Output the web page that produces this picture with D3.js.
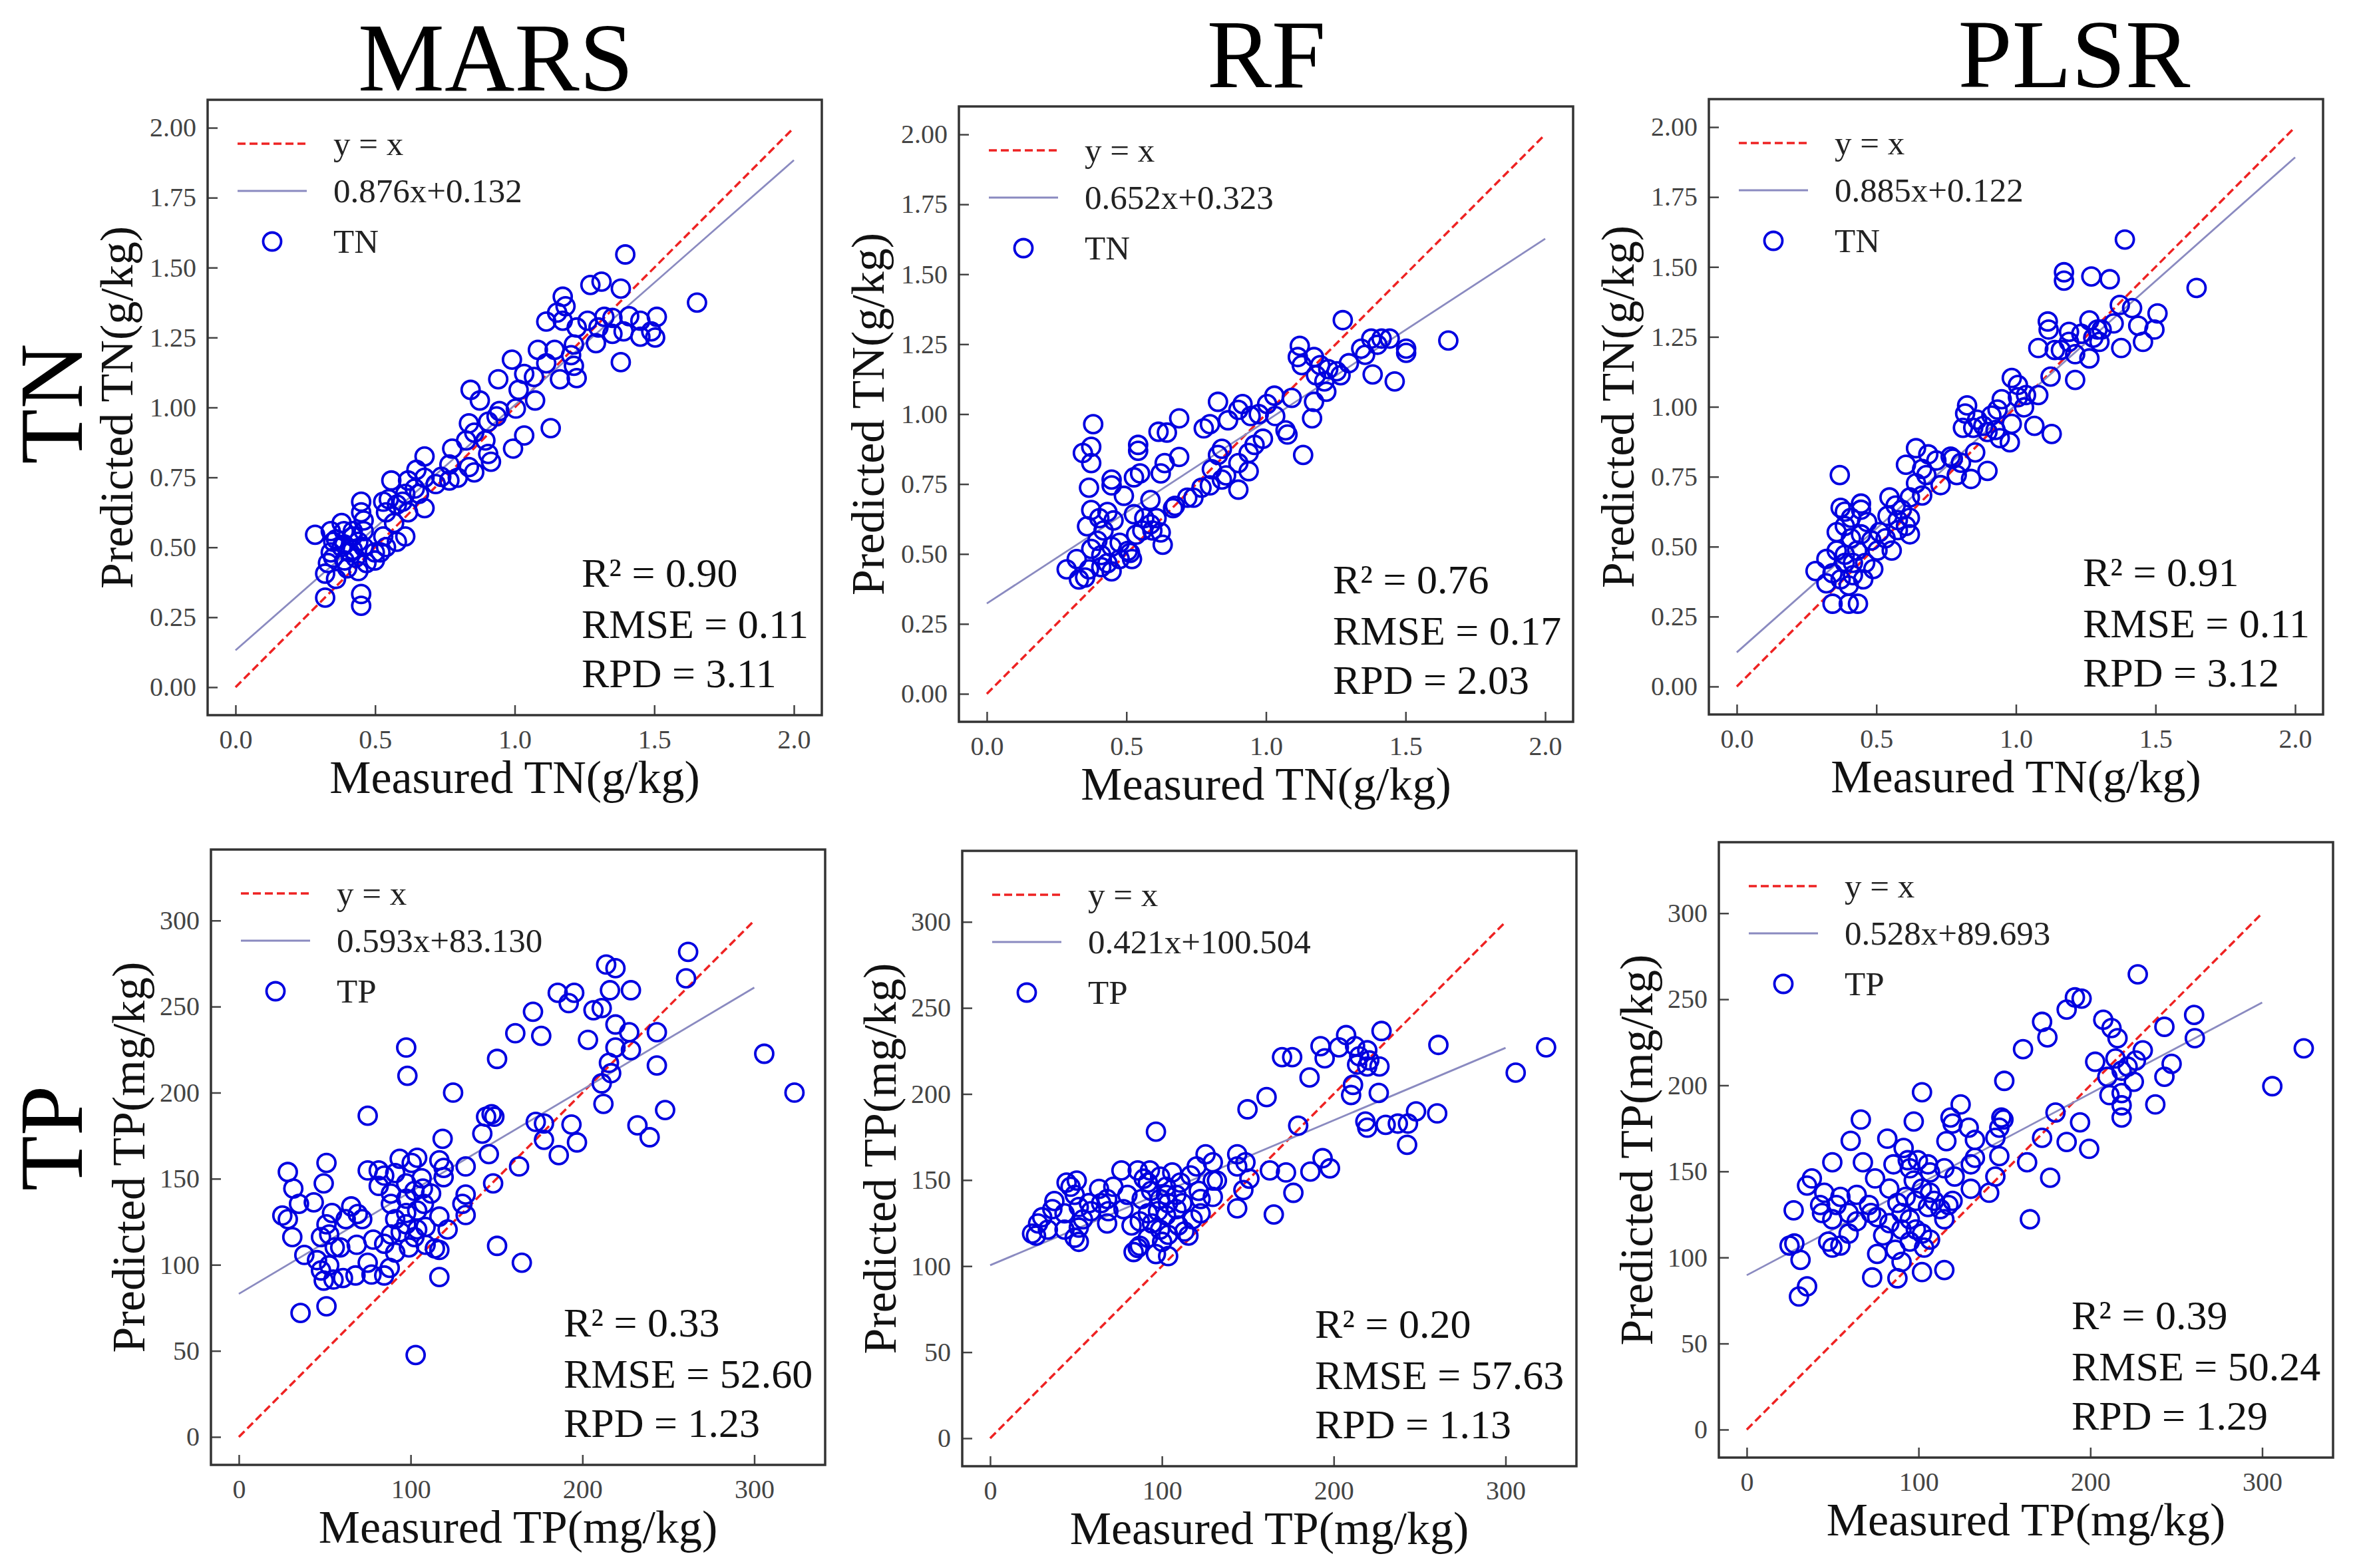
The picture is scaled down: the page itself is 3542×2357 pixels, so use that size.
<!DOCTYPE html>
<html>
<head>
<meta charset="utf-8">
<script src="https://cdn.jsdelivr.net/npm/d3@7/dist/d3.min.js"></script>
<style>
  html, body { margin: 0; padding: 0; background: #fff; }
  svg { display: block; }
</style>
</head>
<body>
<svg id="chart" width="3542" height="2357"></svg>
<script>
// ---------------- DATA ----------------
const models = ["MARS", "RF", "PLSR"];
const properties = ["TN", "TP"];

const tnTicksY = [0, 0.25, 0.5, 0.75, 1.0, 1.25, 1.5, 1.75, 2.0];
const tnTicksX = [0, 0.5, 1.0, 1.5, 2.0];
const tpTicksY = [0, 50, 100, 150, 200, 250, 300];
const tpTicksX = [0, 100, 200, 300];

const fitSlopes = { MARS_TN: 0.876, RF_TN: 0.652, PLSR_TN: 0.885, MARS_TP: 0.593, RF_TP: 0.421, PLSR_TP: 0.528 };
const fitIntercepts = { MARS_TN: 0.132, RF_TN: 0.323, PLSR_TN: 0.122, MARS_TP: 83.130, RF_TP: 100.504, PLSR_TP: 89.693 };
const fitLabels = { MARS_TN: "0.876x+0.132", RF_TN: "0.652x+0.323", PLSR_TN: "0.885x+0.122",
                    MARS_TP: "0.593x+83.130", RF_TP: "0.421x+100.504", PLSR_TP: "0.528x+89.693" };
const r2Values = { MARS_TN: "0.90", RF_TN: "0.76", PLSR_TN: "0.91", MARS_TP: "0.33", RF_TP: "0.20", PLSR_TP: "0.39" };
const rmseValues = { MARS_TN: "0.11", RF_TN: "0.17", PLSR_TN: "0.11", MARS_TP: "52.60", RF_TP: "57.63", PLSR_TP: "50.24" };
const rpdValues = { MARS_TN: "3.11", RF_TN: "2.03", PLSR_TN: "3.12", MARS_TP: "1.23", RF_TP: "1.13", PLSR_TP: "1.29" };

// measured, predicted
const marsTN = [
[1.396,1.547],[1.653,1.375],[1.380,1.425],[1.271,1.438],[1.311,1.45],[1.172,1.396],[1.182,1.362],[1.113,1.307],
[1.172,1.31],[1.261,1.31],[1.321,1.324],[1.35,1.32],[1.41,1.326],[1.45,1.31],[1.509,1.324],[1.45,1.253],
[1.503,1.25],[1.35,1.263],[1.291,1.23],[1.30,1.286],[1.38,1.162],[1.212,1.225],[1.202,1.187],[1.212,1.149],
[1.222,1.105],[1.162,1.101],[1.113,1.158],[1.083,1.206],[1.143,1.206],[1.069,1.109],[0.99,1.171],[1.034,1.12],
[1.014,1.063],[1.073,1.025],[1.004,0.996],[1.129,0.926],[1.034,0.90],[0.994,0.853],[0.941,1.101],[0.842,1.063],
[0.875,1.025],[0.945,0.987],[0.905,0.949],[0.935,0.968],[0.836,0.943],[0.826,0.882],[0.855,0.91],[0.895,0.882],
[0.905,0.834],[0.915,0.806],[0.855,0.768],[0.836,0.787],[0.776,0.853],[0.766,0.796],[0.766,0.739],[0.796,0.749],
[0.737,0.752],[0.677,0.825],[0.677,0.749],[0.648,0.777],[0.618,0.739],[0.642,0.710],[0.677,0.64],[0.618,0.625],
[0.598,0.663],[0.558,0.739],[0.549,0.672],[0.529,0.663],[0.539,0.625],[0.568,0.587],[0.608,0.539],[0.578,0.52],
[0.539,0.501],[0.519,0.482],[0.499,0.453],[0.529,0.539],[0.459,0.558],[0.45,0.663],[0.45,0.625],[0.459,0.596],
[0.42,0.558],[0.38,0.587],[0.341,0.558],[0.285,0.545],[0.35,0.52],[0.38,0.501],[0.41,0.482],[0.44,0.52],
[0.459,0.501],[0.43,0.463],[0.39,0.453],[0.35,0.463],[0.331,0.444],[0.321,0.406],[0.36,0.387],[0.40,0.425],
[0.44,0.415],[0.321,0.32],[0.45,0.333],[0.45,0.291],[0.42,0.539],[0.388,0.558],[0.36,0.529],[0.469,0.444],
[0.499,0.482],[0.39,0.51],[0.42,0.491],[0.341,0.482],[0.657,0.691],[0.717,0.726],[0.608,0.691],[0.578,0.653],
[1.152,1.339],[1.222,1.286],[1.39,1.272],[1.489,1.272]
];

const rfTN = [
[1.275,1.336],[1.653,1.263],[1.121,1.244],[1.172,1.204],[1.114,1.204],[1.128,1.175],[1.194,1.175],[1.179,1.139],
[1.209,1.117],[1.216,1.08],[1.253,1.153],[1.297,1.182],[1.341,1.234],[1.377,1.27],[1.414,1.27],[1.443,1.27],
[1.399,1.248],[1.355,1.212],[1.502,1.234],[1.502,1.219],[1.382,1.142],[1.461,1.117],[1.172,1.044],[1.165,0.985],
[1.133,0.854],[1.092,1.058],[1.03,1.066],[1.004,1.036],[0.974,1.0],[0.945,0.993],[0.916,1.036],[0.901,1.015],
[0.864,0.978],[0.828,1.044],[0.777,0.949],[0.799,0.964],[1.033,0.993],[1.07,0.942],[1.077,0.927],[0.989,0.912],
[0.959,0.89],[0.938,0.861],[0.938,0.796],[0.901,0.73],[0.901,0.825],[0.857,0.781],[0.842,0.876],[0.828,0.854],
[0.806,0.803],[0.842,0.766],[0.799,0.745],[0.769,0.737],[0.74,0.701],[0.689,0.847],[0.689,0.985],[0.645,0.934],
[0.615,0.937],[0.637,0.825],[0.623,0.788],[0.549,0.788],[0.542,0.89],[0.542,0.869],[0.527,0.774],[0.586,0.693],
[0.674,0.672],[0.381,0.964],[0.344,0.861],[0.374,0.883],[0.374,0.825],[0.366,0.737],[0.447,0.766],[0.447,0.745],
[0.491,0.708],[0.374,0.657],[0.359,0.599],[0.403,0.628],[0.432,0.65],[0.454,0.62],[0.418,0.584],[0.396,0.547],
[0.374,0.518],[0.41,0.496],[0.447,0.526],[0.476,0.54],[0.505,0.511],[0.52,0.482],[0.527,0.642],[0.564,0.628],
[0.586,0.606],[0.608,0.628],[0.623,0.577],[0.63,0.533],[0.557,0.584],[0.535,0.569],[0.593,0.584],[0.447,0.438],
[0.432,0.467],[0.41,0.453],[0.366,0.445],[0.322,0.482],[0.286,0.445],[0.33,0.409],[0.352,0.416],[0.476,0.482],
[0.513,0.504],[0.667,0.664],[0.718,0.701],[1.223,1.161],[1.267,1.139]
];

const plsrTN = [
[1.39,1.598],[1.647,1.425],[1.172,1.481],[1.172,1.451],[1.27,1.466],[1.336,1.456],[1.372,1.364],[1.416,1.353],
[1.507,1.334],[1.496,1.276],[1.438,1.29],[1.455,1.232],[1.377,1.21],[1.35,1.298],[1.307,1.276],[1.263,1.309],
[1.234,1.261],[1.19,1.268],[1.19,1.232],[1.161,1.203],[1.212,1.188],[1.299,1.232],[1.263,1.173],[1.212,1.096],
[1.114,1.305],[1.117,1.276],[1.08,1.21],[1.139,1.203],[1.124,1.108],[1.08,1.042],[1.036,1.042],[0.985,1.103],
[1.007,1.078],[1.029,0.998],[1.066,0.932],[1.128,0.903],[0.985,0.939],[0.978,0.873],[0.949,1.027],[0.934,0.99],
[0.912,0.969],[0.898,0.91],[0.927,0.917],[0.942,0.888],[0.883,0.932],[0.861,0.954],[0.825,1.005],[0.818,0.976],
[0.81,0.925],[0.847,0.925],[0.854,0.837],[0.839,0.742],[0.803,0.8],[0.774,0.815],[0.788,0.756],[0.898,0.771],
[0.73,0.72],[0.686,0.83],[0.642,0.852],[0.606,0.793],[0.664,0.778],[0.679,0.756],[0.642,0.727],[0.664,0.683],
[0.62,0.676],[0.591,0.632],[0.547,0.676],[0.569,0.647],[0.54,0.61],[0.577,0.595],[0.62,0.603],[0.606,0.574],
[0.62,0.544],[0.577,0.559],[0.511,0.552],[0.533,0.53],[0.555,0.486],[0.504,0.486],[0.369,0.756],[0.372,0.639],
[0.387,0.625],[0.445,0.654],[0.445,0.632],[0.409,0.603],[0.358,0.552],[0.387,0.574],[0.409,0.53],[0.445,0.544],
[0.467,0.588],[0.482,0.522],[0.431,0.486],[0.387,0.471],[0.358,0.486],[0.321,0.456],[0.282,0.413],[0.343,0.405],
[0.321,0.369],[0.372,0.383],[0.416,0.398],[0.453,0.383],[0.489,0.42],[0.416,0.442],[0.46,0.442],[0.401,0.361],
[0.343,0.296],[0.401,0.296],[0.434,0.296],[0.387,0.442],[0.766,0.822],[0.715,0.808],[1.292,1.276],[1.277,1.247],
[1.007,1.034]
];

const marsTP = [
[261.5,281.8],[260.3,266.4],[213.8,274.4],[219.2,272.3],[185.6,258],[195.2,258],[192,252],[228.2,259.5],
[216,259.5],[206.4,247.9],[211.2,249.1],[171.2,247],[160.9,234.5],[176,233],[203.2,230.7],[219.2,239.6],
[227.2,235.1],[243.3,235.1],[243.3,215.8],[228.2,224.7],[219.2,226.2],[215.4,217.3],[216.7,211.3],[211.2,205.4],
[212.2,193.5],[248.1,189.9],[232,181],[239.1,174.1],[193.6,181.5],[196.8,171.1],[177.6,182.1],[177.6,172.6],
[172.8,183],[186.2,163.7],[150.3,219.6],[97.4,226.2],[98.1,209.8],[124.7,200],[75,186.6],[147.1,187.5],
[148.7,186],[143.9,186],[141.7,176.2],[118.6,173.2],[145.5,164.3],[132,157.1],[163.1,157.1],[148,147.3],
[132,140.8],[132,128.9],[130.1,135.4],[150.3,111],[164.7,101.2],[102.9,47.6],[51,75.9],[35.9,72],
[51,159.2],[49.4,147.3],[28.5,153.9],[31.7,144.3],[35,135.4],[43.6,136.3],[25.3,128.6],[28.5,126.5],
[31.1,116.1],[38.1,105.7],[45.5,102.7],[47.8,96.7],[49.4,90.8],[55.1,91.4],[52.6,99.7],[51,123.5],
[52.6,117.6],[55.8,110.1],[54.2,130.1],[62.2,126.5],[65.4,133.9],[69.2,129.5],[71.8,126.5],[68.6,111.6],
[67.9,93.8],[75,101.2],[77.2,94.3],[87.8,98.2],[84.6,112.2],[88.5,117.6],[94.2,119],[91,126.5],
[97.4,130.1],[103.8,131.5],[107.7,135.4],[97.4,138.4],[88.5,135.4],[81.4,145.8],[81.4,154.8],[75,154.8],
[84.6,151.8],[91,153.3],[93.6,161.6],[103.8,162.2],[100.6,159.2],[106.4,150.3],[97.4,147.3],[107.1,144.3],
[102.2,142.9],[111.9,141.4],[116.7,160.7],[119.2,156.3],[119.2,150.9],[116.7,128],[108.7,122],[103.8,120.5],
[102.2,116.1],[108.7,111.6],[114.1,109.5],[116.7,108.6],[116.7,92.9],[99,110.1],[121.5,120.5],[84.6,93.8],
[60.6,92.3],[59,110.1],[47.8,116.1],[88.5,141.4],[97.4,123.5],[91,107.1],[78.2,114.6],[305.8,222.6],
[323.4,200]
];

const rfTP = [
[323.6,227.1],[305.9,212.4],[260.9,228.5],[260.2,188.7],[227.8,236.6],[207.2,234.2],[203,227.1],[212.4,227.8],
[214.8,221.9],[219.5,225.4],[220.7,219.5],[213.6,217.1],[226.6,216],[219.5,216],[192.3,227.8],[194.7,220.7],
[169.9,221.4],[175.8,221.4],[185.9,209.6],[211.2,205.3],[210.1,199.4],[226.2,200.6],[160.9,198.2],[149.8,191.1],
[218.4,184],[219.5,180.4],[230.2,182.1],[237.3,182.8],[243.2,182.8],[247.9,189.9],[242.7,170.5],[179.3,181.6],
[96.5,178.1],[125.4,165],[129.6,160.3],[143.8,157.9],[148.6,160.3],[162.8,155.6],[172.2,154.4],[186.4,154.9],
[193.5,162.7],[197.8,156.8],[176.5,142.6],[165.1,130],[143.8,133.6],[150.9,150.8],[147.4,144.2],[132,149.7],
[129.6,140.2],[122.5,130.7],[121.4,143.7],[116.6,152.7],[120.2,157.9],[110.7,148.5],[106,154.4],[102.4,146.1],
[98.9,152],[93,155.6],[89.4,150.8],[93.7,143.7],[88.2,139],[98.9,139],[103.6,136.6],[108.4,133.1],
[102.4,129.5],[97.7,131.9],[91.8,130.7],[87.1,126],[94.2,124.8],[98.9,121.2],[103.6,118.2],[109.5,123.6],
[115.4,117.7],[117.8,127.2],[91.8,116.5],[87.1,111.8],[85.9,110.6],[96.5,107],[103.6,105.8],[100.1,114.1],
[82.3,123.6],[77.6,133.1],[79.9,141.4],[76.4,155.6],[71.7,146.1],[68.1,139],[63.4,144.9],[68.8,131.9],
[68.1,124.8],[64.6,136.6],[57.5,136.6],[50.4,149.7],[46.8,146.1],[44.5,148.5],[49.2,141.4],[51.6,134.3],
[43.3,130.7],[37.4,137.8],[36.2,133.1],[30.3,128.4],[27.9,124.8],[24.4,118.9],[26.7,117.7],[33.6,121.2],
[43.3,121.2],[51.6,122.4],[49.2,116.5],[51.6,114.1],[54,127.2],[58.7,131.9],[83.5,108.2],[113.1,120.1],
[122.5,139],[108.4,141.4],[102.4,141.4],[85.9,155.6],[91.8,148.5],[111.9,136.6],[129.6,149.7],[143.8,165]
];

const plsrTP = [
[227.6,264.5],[324.2,221.5],[305.9,199.5],[260.4,240.9],[260.8,227.4],[243.1,234],[247.3,212.5],[243.1,205],
[237.8,188.9],[230.5,220.3],[226.5,214.4],[225.3,202.1],[221.7,210.9],[218.2,208.5],[215.8,227.4],[212.3,233.3],
[207.5,238.1],[202.8,213.7],[209.9,205],[211.1,194.3],[218.2,195.5],[218.2,188.4],[218.2,181.3],[214.6,215.6],
[186.2,244],[191,251.1],[194.9,250.4],[171.9,236.9],[175,227.9],[160.8,221],[149.9,202.6],[179.7,184.2],
[194,178.5],[186.2,167.1],[199.3,163.1],[171.9,169.5],[176.6,146.3],[163.2,155.3],[164.8,122.2],[148.2,181.3],
[149.4,180.1],[144.7,169.5],[147,175.4],[147,158.9],[144.7,147],[141.1,137.6],[124.5,188.9],[118.6,181.3],
[119.8,177.8],[129.2,175.4],[132.8,168.3],[116.2,167.6],[102,196],[97.2,179],[81.8,169],[66.4,180.1],
[60.5,167.8],[49.8,155.3],[67.6,155.3],[37.9,145.9],[35.1,141.8],[27.3,127.4],[24.9,106.9],[27.7,108.1],
[31.3,98.6],[35.1,83.2],[30.4,77.3],[45.1,137.6],[42.7,130.5],[43.8,125.8],[49.8,122.2],[52.2,130.5],
[54.5,135.2],[47.4,109.2],[49.8,105.7],[54.5,106.9],[59.3,113.9],[64,136.4],[71.1,130.5],[72.3,125.8],
[75.9,123.4],[74.7,145.9],[83,140],[85.4,154.1],[91.3,163.6],[93.7,156.5],[94.9,151.8],[99.6,156.5],
[105.5,154.1],[106.7,149.4],[97.2,144.7],[102,140],[106.7,137.6],[109.1,132.9],[105.5,129.3],[98.4,132.9],
[92.5,135.2],[87.7,131.7],[90.1,125.8],[94.9,122.2],[98.4,116.3],[90.1,116.3],[83,119.9],[79.4,112.8],
[86.5,104.5],[94.9,109.2],[102,113.9],[106.7,110.4],[103.2,105.7],[75.9,102.1],[73,88.4],[87.7,87.9],
[90.1,97.4],[102,91.5],[115,92.7],[115,122.2],[119.8,132.9],[115,151.8],[121,147],[130.4,154.1],
[130.4,139.9],[132.8,157.9],[117.4,130.5],[112.7,128.1],[64,121],[59.3,125.8]
];

const pointSets = { MARS_TN: marsTN, RF_TN: rfTN, PLSR_TN: plsrTN, MARS_TP: marsTP, RF_TP: rfTP, PLSR_TP: plsrTP };

// ---------------- LAYOUT ----------------
const W = 923, H = 925;
const frameLeft = { MARS_TN: 312, RF_TN: 1441, PLSR_TN: 2568, MARS_TP: 317, RF_TP: 1446, PLSR_TP: 2583 };
const frameTop  = { MARS_TN: 150, RF_TN: 160, PLSR_TN: 149, MARS_TP: 1277, RF_TP: 1279, PLSR_TP: 1266 };

const FONT = "'Liberation Serif', 'Times New Roman', Times, serif";
const BLUE = "#0000e0";
const RED = "#ee2222";
const FITC = "#8a8ac0";

const svg = d3.select("#chart");
svg.append("rect").attr("width", 3542).attr("height", 2357).attr("fill", "#fff");

// column titles
const titleX = { MARS: 745, RF: 1903, PLSR: 3117 };
const titleY = { MARS: 136, RF: 131, PLSR: 131 };
models.forEach(m => {
  svg.append("text").attr("x", titleX[m]).attr("y", titleY[m])
    .attr("text-anchor", "middle").attr("font-family", FONT).attr("font-size", 146)
    .attr("fill", "#000").text(m);
});

// row labels
const rowLabelY = { TN: 607, TP: 1711 };
properties.forEach(p => {
  svg.append("text").attr("transform", `translate(123,${rowLabelY[p]}) rotate(-90)`)
    .attr("text-anchor", "middle").attr("font-family", FONT).attr("font-size", 136)
    .attr("fill", "#000").text(p);
});

properties.forEach(p => {
  models.forEach(m => {
    const key = m + "_" + p;
    const L = frameLeft[key], T = frameTop[key];
    const isTN = p === "TN";
    const dom = isTN ? [-0.1, 2.1] : [-16.25, 341.25];
    const lineMax = isTN ? 2 : 300;
    const x = d3.scaleLinear().domain(dom).range([L, L + W]);
    const y = d3.scaleLinear().domain(dom).range([T + H, T]);
    const g = svg.append("g");

    // axes (inward ticks)
    const yAxis = d3.axisLeft(y).tickValues(isTN ? tnTicksY : tpTicksY)
      .tickFormat(isTN ? d3.format(".2f") : d3.format("d"))
      .tickSizeInner(-15).tickSizeOuter(0).tickPadding(17);
    const xAxis = d3.axisBottom(x).tickValues(isTN ? tnTicksX : tpTicksX)
      .tickFormat(isTN ? d3.format(".1f") : d3.format("d"))
      .tickSizeInner(-15).tickSizeOuter(0).tickPadding(22);
    const ya = g.append("g").attr("transform", `translate(${L},0)`).call(yAxis);
    const xa = g.append("g").attr("transform", `translate(0,${T + H})`).call(xAxis);
    [ya, xa].forEach(a => {
      a.attr("font-family", FONT).attr("font-size", 40);
      a.select(".domain").remove();
      a.selectAll(".tick line").attr("stroke", "#444").attr("stroke-width", 2.5);
      a.selectAll(".tick text").attr("font-family", FONT).attr("font-size", 40).attr("fill", "#444");
    });

    // y = x line
    g.append("line").attr("x1", x(0)).attr("y1", y(0)).attr("x2", x(lineMax)).attr("y2", y(lineMax))
      .attr("stroke", RED).attr("stroke-width", 3.5).attr("stroke-dasharray", "12,6");
    // fit line
    const s = fitSlopes[key], b = fitIntercepts[key];
    g.append("line").attr("x1", x(0)).attr("y1", y(b)).attr("x2", x(lineMax)).attr("y2", y(s * lineMax + b))
      .attr("stroke", FITC).attr("stroke-width", 2.8);

    // points
    g.append("g").selectAll("circle").data(pointSets[key]).join("circle")
      .attr("cx", d => x(d[0])).attr("cy", d => y(d[1])).attr("r", 13.5)
      .attr("fill", "none").attr("stroke", BLUE).attr("stroke-width", 3.8);

    // frame
    g.append("rect").attr("x", L).attr("y", T).attr("width", W).attr("height", H)
      .attr("fill", "none").attr("stroke", "#333").attr("stroke-width", 3.5);

    // legend
    const rows = [T + 66, T + 137, T + 213];
    g.append("line").attr("x1", L + 45).attr("x2", L + 149).attr("y1", rows[0]).attr("y2", rows[0])
      .attr("stroke", RED).attr("stroke-width", 3.5).attr("stroke-dasharray", "12,6");
    g.append("line").attr("x1", L + 45).attr("x2", L + 149).attr("y1", rows[1]).attr("y2", rows[1])
      .attr("stroke", FITC).attr("stroke-width", 2.8);
    g.append("circle").attr("cx", L + 97).attr("cy", rows[2]).attr("r", 13.5)
      .attr("fill", "none").attr("stroke", BLUE).attr("stroke-width", 3.8);
    const legTexts = ["y = x", fitLabels[key], p];
    legTexts.forEach((t, i) => {
      g.append("text").attr("x", L + 189).attr("y", rows[i] + 17)
        .attr("font-family", FONT).attr("font-size", 51).attr("fill", "#222").text(t);
    });

    // stats
    const sx = L + (isTN ? 562 : 530);
    const stats = ["R\u00B2 = " + r2Values[key], "RMSE = " + rmseValues[key], "RPD = " + rpdValues[key]];
    const offs = [-193, -116, -42];
    stats.forEach((t, i) => {
      g.append("text").attr("x", sx).attr("y", T + H + offs[i])
        .attr("font-family", FONT).attr("font-size", 62).attr("fill", "#111").text(t);
    });

    // axis labels
    g.append("text").attr("x", L + W / 2).attr("y", T + H + 117)
      .attr("text-anchor", "middle").attr("font-family", FONT).attr("font-size", 70).attr("fill", "#111")
      .text(isTN ? "Measured TN(g/kg)" : "Measured TP(mg/kg)");
    const yl = isTN ? 113 : 100;
    g.append("text").attr("transform", `translate(${L - yl},${T + H / 2}) rotate(-90)`)
      .attr("text-anchor", "middle").attr("font-family", FONT).attr("font-size", 70).attr("fill", "#111")
      .text(isTN ? "Predicted TN(g/kg)" : "Predicted TP(mg/kg)");
  });
});
</script>
</body>
</html>
